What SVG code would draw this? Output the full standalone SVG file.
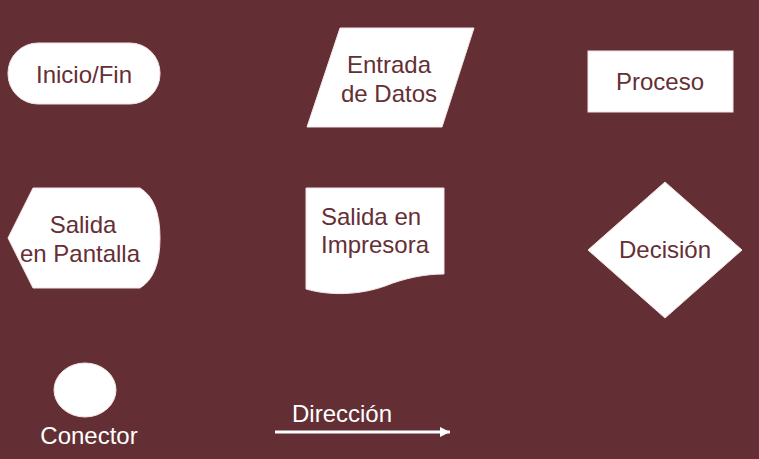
<svg xmlns="http://www.w3.org/2000/svg" width="759" height="459" viewBox="0 0 759 459">
<style>
.shape{fill:#ffffff;stroke:#f4e4e4;stroke-width:1}
.t{font-family:"Liberation Sans",Arial,sans-serif;font-size:24px;fill:#652f35}
.w{font-family:"Liberation Sans",Arial,sans-serif;font-size:24px;fill:#ffffff}
.c{text-anchor:middle}
</style>
<defs>
<marker id="ah" viewBox="0 0 10 10" refX="10" refY="5" markerWidth="10" markerHeight="10" markerUnits="userSpaceOnUse" orient="auto">
<path d="M0,0 L10,5 L0,10 Z" fill="#ffffff"/>
</marker>
</defs>
<rect width="759" height="459" fill="#642f34"/>
<g id="inicio-fin">
<rect class="shape" x="8" y="43" width="152" height="61" rx="30" ry="30"/>
<text class="t c" x="84" y="83">Inicio/Fin</text>
</g>
<g id="entrada-datos">
<polygon class="shape" points="340,28 474,28 442,127 307,127"/>
<text class="t c" x="389" y="73">Entrada</text>
<text class="t c" x="389" y="102">de Datos</text>
</g>
<g id="proceso">
<rect class="shape" x="588" y="51" width="145" height="61"/>
<text class="t c" x="660" y="90">Proceso</text>
</g>
<g id="salida-pantalla">
<path class="shape" d="M8,238 L33,188 L140,188 Q160,200 160,238 Q160,276 140,288 L33,288 Z"/>
<text class="t c" x="83" y="233">Salida</text>
<text class="t c" x="80" y="262">en Pantalla</text>
</g>
<g id="salida-impresora">
<path class="shape" d="M306,188 L444,188 L444,274 C425,274 405,278 385,286 C360,295 330,296 306,289 Z"/>
<text class="t" x="321" y="225">Salida en</text>
<text class="t" x="321" y="253">Impresora</text>
</g>
<g id="decision">
<polygon class="shape" points="665,182 742,250 665,318 588,250"/>
<text class="t c" x="665" y="258">Decisión</text>
</g>
<g id="conector">
<ellipse class="shape" cx="85" cy="390" rx="31" ry="27"/>
<text class="w c" x="89" y="444">Conector</text>
</g>
<g id="connectors">
<line x1="275" y1="432" x2="450" y2="432" stroke="#ffffff" stroke-width="3" marker-end="url(#ah)"/>
<text class="w" x="292" y="422">Dirección</text>
</g>
</svg>
